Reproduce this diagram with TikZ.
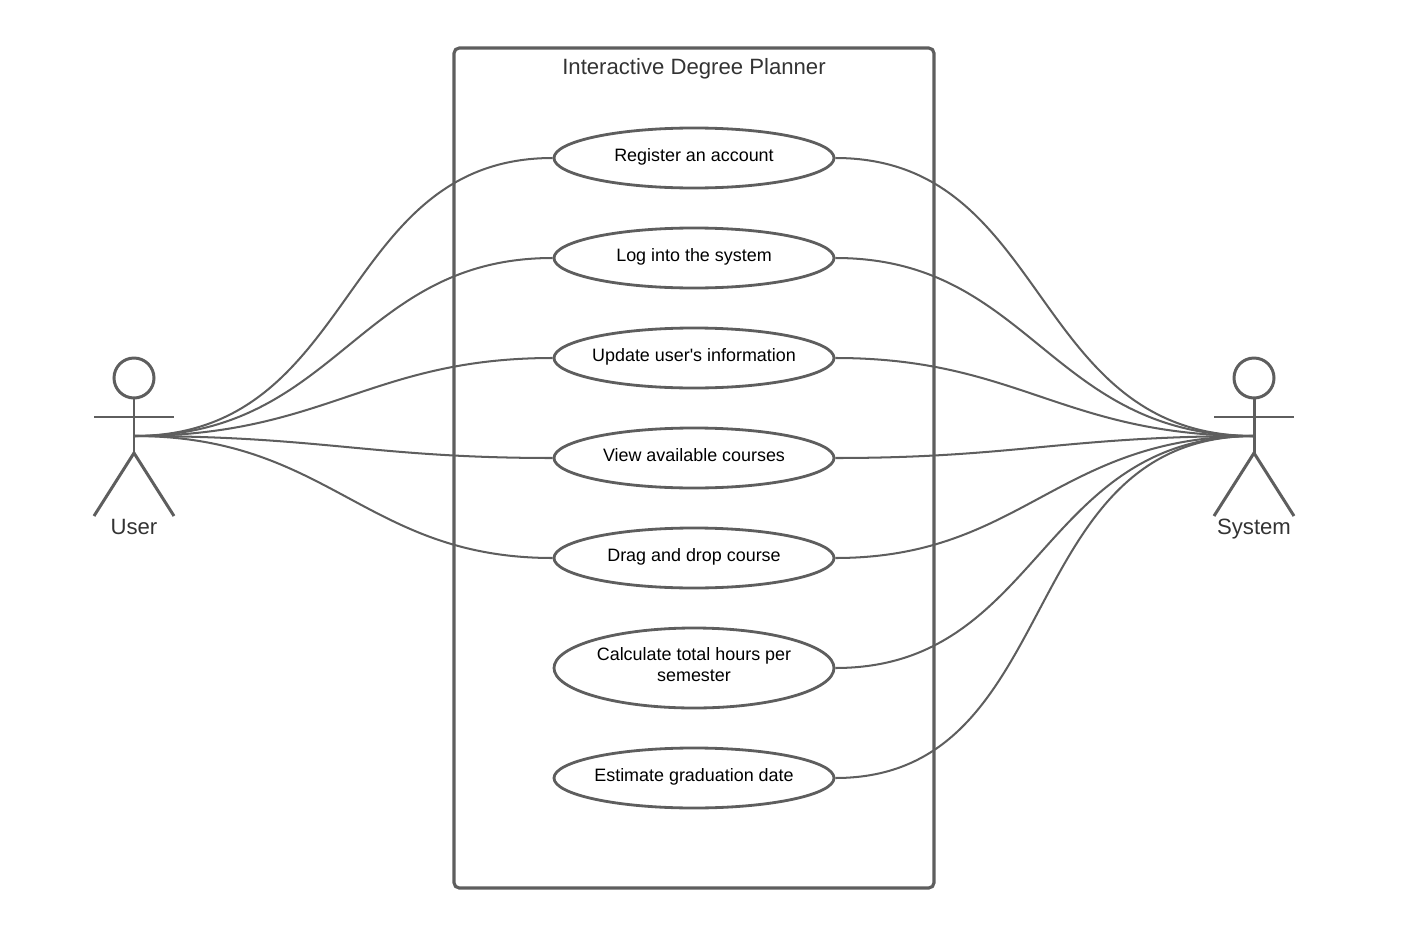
\documentclass[tikz,border=0pt]{standalone}
\usepackage{fontspec}
\setmainfont{Liberation Sans}
\usetikzlibrary{shapes.geometric}
\definecolor{cline}{HTML}{5E5E5E}
\definecolor{ctext}{HTML}{333333}
\newcommand{\ucstrut}{\rule[-4pt]{0pt}{12.1pt}}
\tikzset{
  every picture/.style={line width=1.15pt, draw=cline},
  usecase/.style={ellipse, draw=cline, line width=1.6pt, minimum width=5.6cm, minimum height=1.2cm, inner sep=-0.2cm, align=center, font=\fontsize{10.2}{12}\selectfont, text=black, execute at begin node=\ucstrut, execute at end node=\ucstrut},
  link/.style={draw=cline, line width=1.15pt},
  limb/.style={draw=cline, line width=1.7pt},
  actorname/.style={anchor=base, font=\fontsize{12.6}{14}\selectfont, text=ctext},
}

\begin{document}
\begin{tikzpicture}
  \useasboundingbox (0,0) rectangle (28.22,-18.56);
  % system boundary
  \node[draw=cline, line width=1.8pt, rounded corners=3pt, minimum width=9.6cm, minimum height=16.8cm, inner sep=0pt] (planner) at (13.88,-9.36) {};
  \node[anchor=base, font=\fontsize{12.6}{14}\selectfont, text=ctext] (title) at (13.88,-1.49) {Interactive Degree Planner};
  % use cases
  \node[usecase] (register) at (13.88,-3.16) {Register an account};
  \node[usecase] (login) at (13.88,-5.16) {Log into the system};
  \node[usecase] (update) at (13.88,-7.16) {Update user\textquotesingle s information};
  \node[usecase] (view) at (13.88,-9.16) {View available courses};
  \node[usecase] (drag) at (13.88,-11.16) {Drag and drop course};
  \node[usecase, minimum height=1.6cm] (calc) at (13.88,-13.36) {Calculate total hours per\\semester};
  \node[usecase] (estimate) at (13.88,-15.56) {Estimate graduation date};
  % actors
  \foreach \who/\lbl/\x in {user/User/2.68, system/System/25.08} {
    \node[circle, limb, minimum size=0.8cm, inner sep=0pt] (\who head) at (\x,-7.56) {};
    \coordinate (\who hip) at (\x,-9.06);
    \coordinate (\who) at (\x,-8.72);
    \coordinate (\who armL) at (\x-0.8,-8.34);
    \coordinate (\who armR) at (\x+0.8,-8.34);
    \coordinate (\who legL) at (\x-0.8,-10.32);
    \coordinate (\who legR) at (\x+0.8,-10.32);
    \draw[limb] (\who head) -- (\who hip);
    \draw[limb] (\who armL) -- (\who armR);
    \draw[limb] (\who legL) -- (\who hip) -- (\who legR);
    \node[actorname] (\who name) at (\x,-10.68) {\lbl};
  }
  % connectors
  \foreach \uc in {register, login, update, view, drag}
    \draw[link] (user) to[out=0, in=180, out looseness=1.15, in looseness=1.1] (\uc.west);
  \foreach \uc in {register, login, update, view, drag, calc, estimate}
    \draw[link] (\uc.east) to[out=0, in=180, out looseness=1.1, in looseness=1.15] (system);
\end{tikzpicture}
\end{document}
